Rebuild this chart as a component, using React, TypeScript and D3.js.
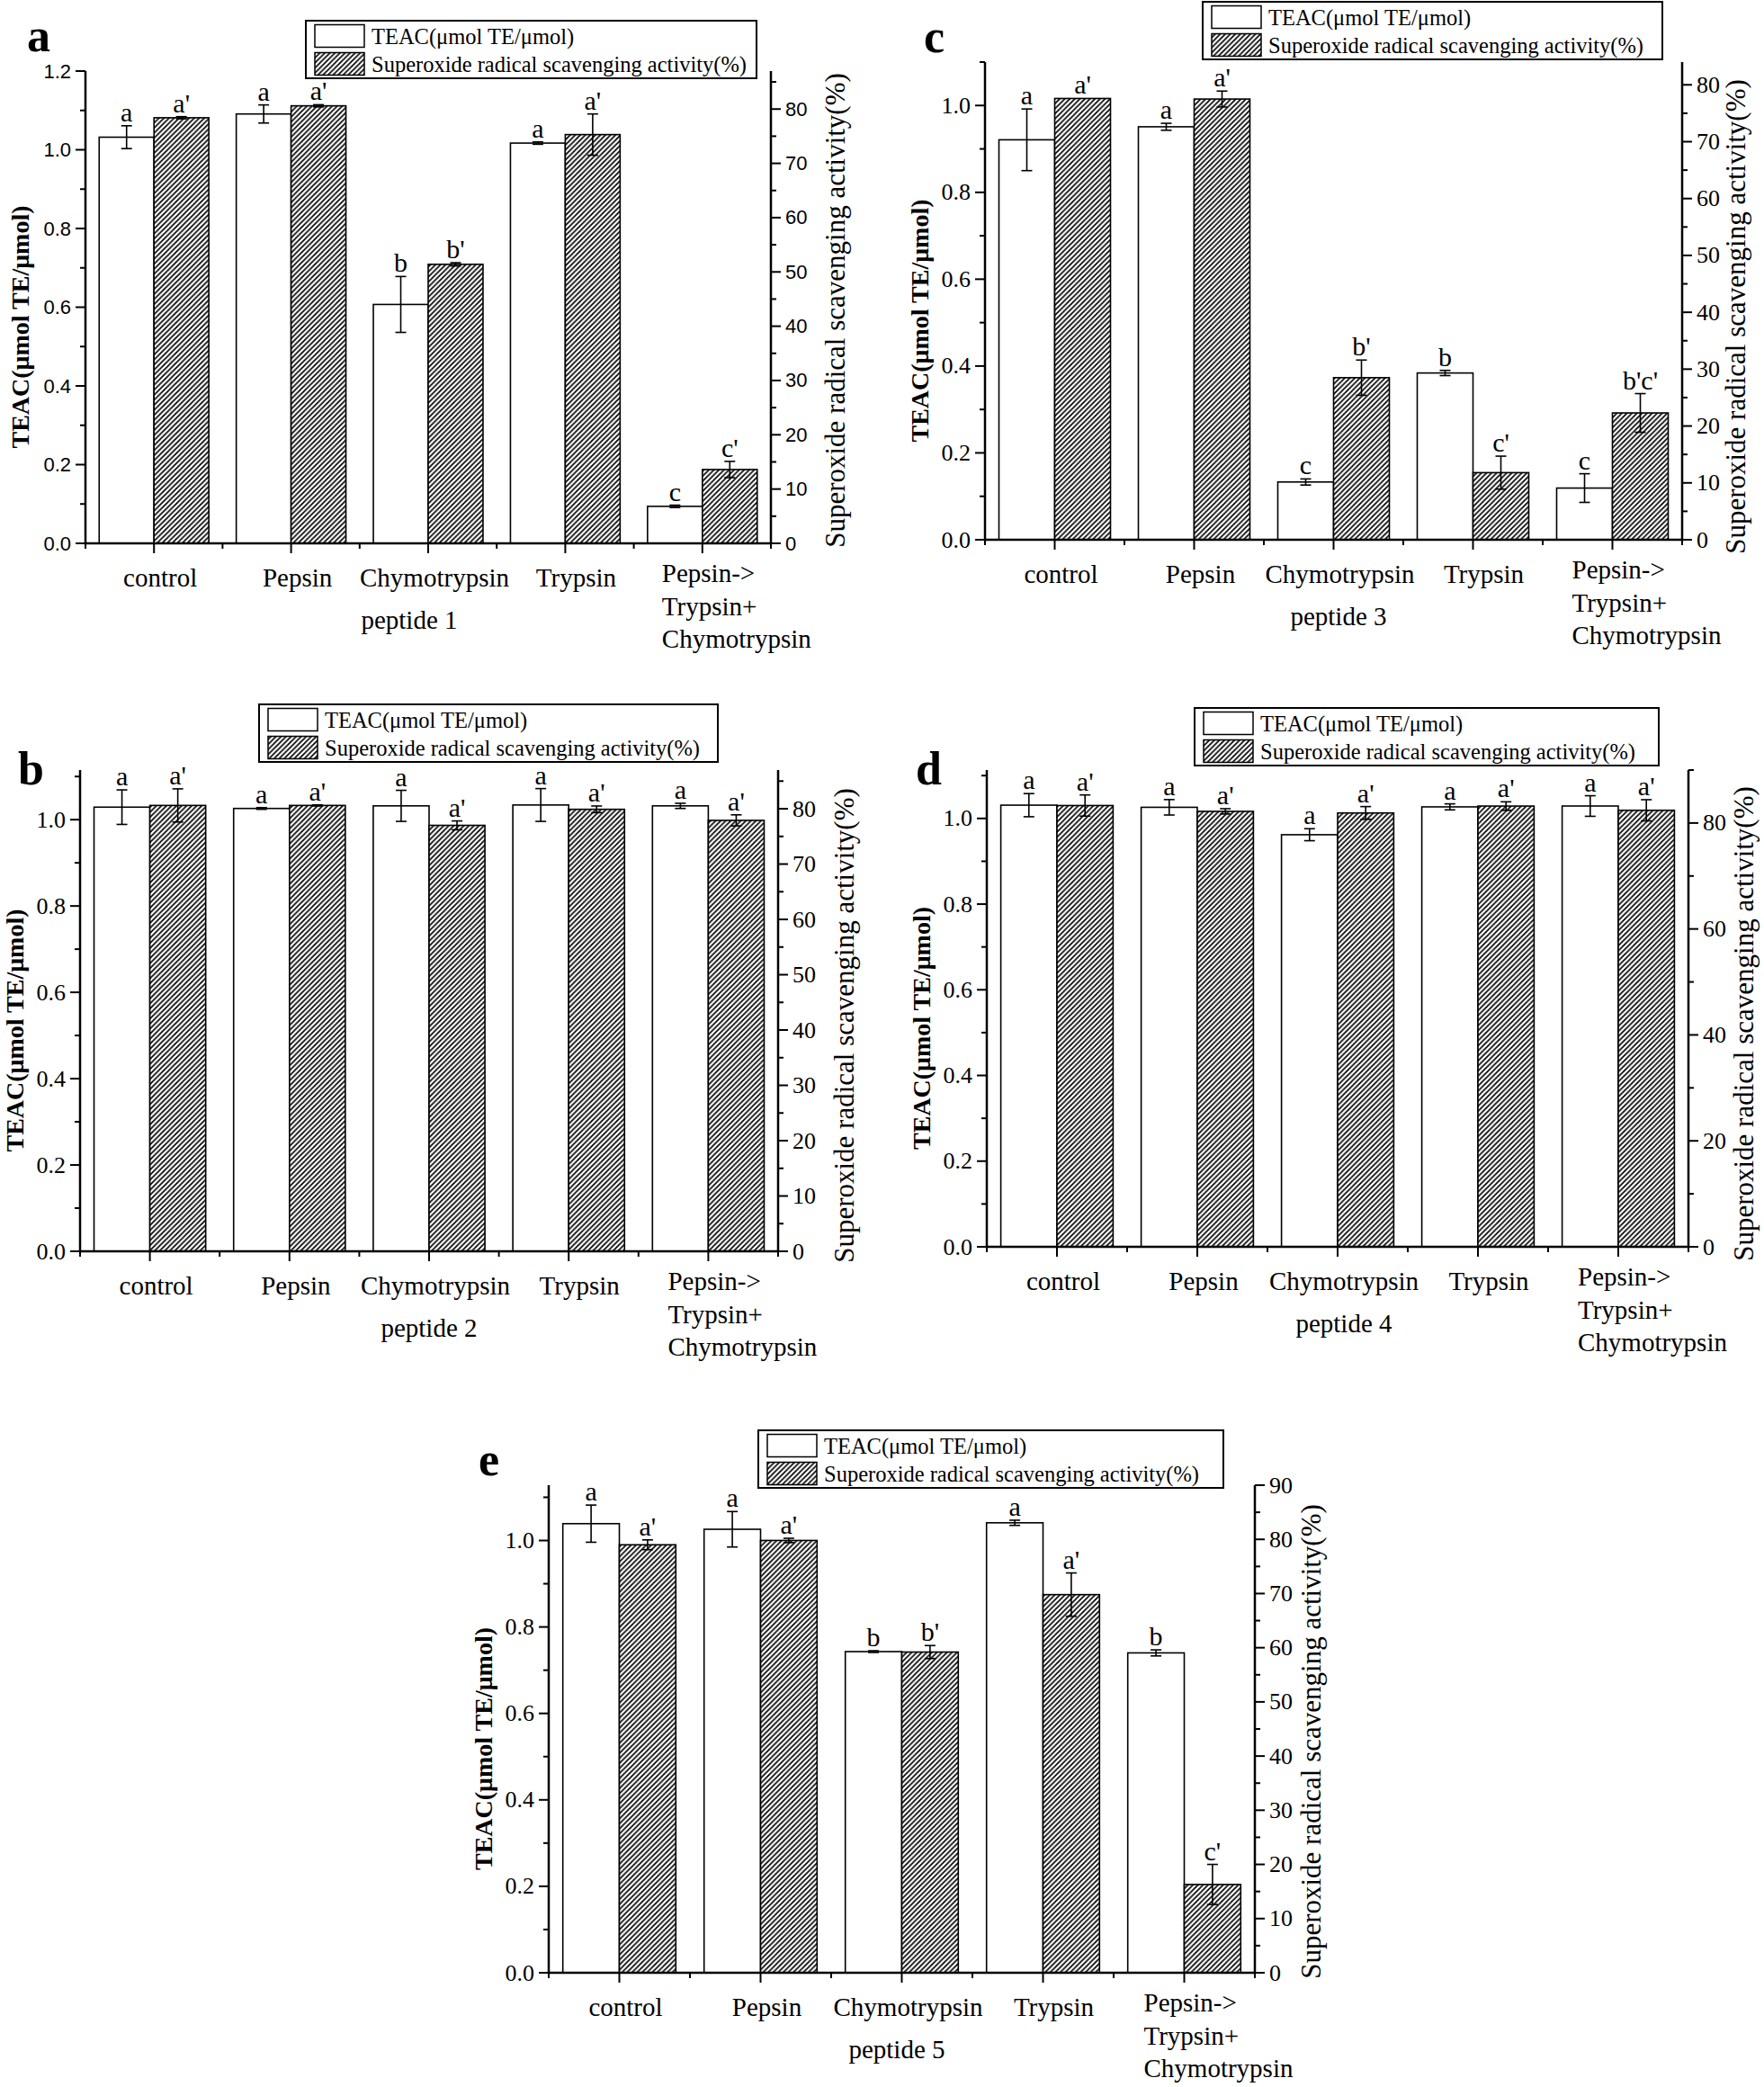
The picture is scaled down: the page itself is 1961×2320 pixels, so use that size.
import React from 'react';
import * as d3 from 'd3';

// ---------- data ----------
const categories: string[][] = [
  ['control'],
  ['Pepsin'],
  ['Chymotrypsin'],
  ['Trypsin'],
  ['Pepsin->', 'Trypsin+', 'Chymotrypsin'],
];
const legendLabels = ['TEAC(\u03bcmol TE/\u03bcmol)', 'Superoxide radical scavenging activity(%)'];
const leftTitle = 'TEAC(\u03bcmol TE/\u03bcmol)';
const rightTitle = 'Superoxide radical scavenging activity(%)';

// peptide 1 (a)
const teacA = [1.032, 1.091, 0.607, 1.017, 0.094];
const teacErrA = [0.029, 0.023, 0.071, 0.003, 0.003];
const srsaA = [78.4, 80.6, 51.4, 75.3, 13.6];
const srsaErrA = [0.2, 0.2, 0.3, 3.8, 1.5];
const teacLabA = ['a', 'a', 'b', 'a', 'c'];
const srsaLabA = ["a'", "a'", "b'", "a'", "c'"];

// peptide 2 (b)
const teacB = [1.029, 1.026, 1.032, 1.034, 1.032];
const teacErrB = [0.04, 0.002, 0.036, 0.038, 0.006];
const srsaB = [80.6, 80.6, 77.0, 79.9, 77.9];
const srsaErrB = [3.0, 0.1, 0.8, 0.6, 1.0];
const teacLabB = ['a', 'a', 'a', 'a', 'a'];
const srsaLabB = ["a'", "a'", "a'", "a'", "a'"];

// peptide 3 (c)
const teacC = [0.921, 0.951, 0.133, 0.384, 0.119];
const teacErrC = [0.071, 0.008, 0.007, 0.006, 0.033];
const srsaC = [77.6, 77.5, 28.5, 11.8, 22.3];
const srsaErrC = [0, 1.4, 3.1, 2.9, 3.4];
const teacLabC = ['a', 'a', 'c', 'b', 'c'];
const srsaLabC = ["a'", "a'", "b'", "c'", "b'c'"];

// peptide 4 (d)
const teacD = [1.031, 1.026, 0.962, 1.027, 1.029];
const teacErrD = [0.027, 0.018, 0.014, 0.007, 0.024];
const srsaD = [83.3, 82.2, 81.9, 83.2, 82.4];
const srsaErrD = [2.0, 0.5, 1.2, 0.8, 2.0];
const teacLabD = ['a', 'a', 'a', 'a', 'a'];
const srsaLabD = ["a'", "a'", "a'", "a'", "a'"];

// peptide 5 (e)
const teacE = [1.039, 1.026, 0.743, 1.041, 0.74];
const teacErrE = [0.043, 0.041, 0.002, 0.006, 0.007];
const srsaE = [79.0, 79.8, 59.2, 69.8, 16.3];
const srsaErrE = [0.9, 0.4, 1.2, 4.0, 3.7];
const teacLabE = ['a', 'a', 'b', 'a', 'b'];
const srsaLabE = ["a'", "a'", "b'", "a'", "c'"];

// ---------- layout ----------
const SERIF = '"Liberation Serif", "Times New Roman", serif';
const SANS = '"Liberation Sans", Arial, sans-serif';

type Layout = {
  L: number; R: number; T: number; B: number;
  leftMax: number; rightMax: number; rightStep: number;
  tickFont: string; tickSize: number;
  legX: number; legY: number; legW: number;
  letterX: number; letterY: number;
  rtX: number; rtY: number; pepX: number;
};

const panels = [
  { letter: 'a', peptide: 'peptide 1', teac: teacA, teacErr: teacErrA, srsa: srsaA, srsaErr: srsaErrA, teacLab: teacLabA, srsaLab: srsaLabA,
    lay: { L: 95, R: 857, T: 79, B: 604, leftMax: 1.2, rightMax: 87, rightStep: 10, tickFont: SANS, tickSize: 22,
      legX: 340, legY: 23, legW: 501, letterX: 30, letterY: 57, rtX: 928, rtY: 345, pepX: 455 } as Layout },
  { letter: 'b', peptide: 'peptide 2', teac: teacB, teacErr: teacErrB, srsa: srsaB, srsaErr: srsaErrB, teacLab: teacLabB, srsaLab: srsaLabB,
    lay: { L: 89, R: 865, T: 856, B: 1391, leftMax: 1.115, rightMax: 87, rightStep: 10, tickFont: SERIF, tickSize: 26,
      legX: 288, legY: 783, legW: 510, letterX: 20, letterY: 872, rtX: 938, rtY: 1140, pepX: 477 } as Layout },
  { letter: 'c', peptide: 'peptide 3', teac: teacC, teacErr: teacErrC, srsa: srsaC, srsaErr: srsaErrC, teacLab: teacLabC, srsaLab: srsaLabC,
    lay: { L: 1095, R: 1870, T: 69, B: 600, leftMax: 1.1, rightMax: 84, rightStep: 10, tickFont: SERIF, tickSize: 26,
      legX: 1337, legY: 2, legW: 511, letterX: 1027, letterY: 58, rtX: 1929, rtY: 352, pepX: 1488 } as Layout },
  { letter: 'd', peptide: 'peptide 4', teac: teacD, teacErr: teacErrD, srsa: srsaD, srsaErr: srsaErrD, teacLab: teacLabD, srsaLab: srsaLabD,
    lay: { L: 1097, R: 1877, T: 856, B: 1386, leftMax: 1.113, rightMax: 90, rightStep: 20, tickFont: SERIF, tickSize: 26,
      legX: 1328, legY: 787, legW: 516, letterX: 1018, letterY: 872, rtX: 1938, rtY: 1138, pepX: 1494 } as Layout },
  { letter: 'e', peptide: 'peptide 5', teac: teacE, teacErr: teacErrE, srsa: srsaE, srsaErr: srsaErrE, teacLab: teacLabE, srsaLab: srsaLabE,
    lay: { L: 610, R: 1395, T: 1651, B: 2193, leftMax: 1.128, rightMax: 90, rightStep: 10, tickFont: SERIF, tickSize: 26,
      legX: 843, legY: 1590, legW: 517, letterX: 532, letterY: 1640, rtX: 1457, rtY: 1936, pepX: 997 } as Layout },
];

function Legend({ x, y, w }: { x: number; y: number; w: number }) {
  const rows = [y + 17, y + 48];
  return (
    <g>
      <rect x={x} y={y} width={w} height={64} fill="white" stroke="black" strokeWidth={2} />
      {legendLabels.map((t, i) => (
        <g key={i}>
          <rect x={x + 10} y={rows[i] - 12.5} width={55} height={25} fill={i === 0 ? 'white' : 'url(#hatch)'} stroke="black" strokeWidth={1.5} />
          <text x={x + 73} y={rows[i]} dominantBaseline="central" fontFamily={SERIF} fontSize={24.5}>{t}</text>
        </g>
      ))}
    </g>
  );
}

function Panel(p: typeof panels[number]) {
  const { L, R, T, B, leftMax, rightMax, rightStep, tickFont, tickSize } = p.lay;
  const idx = d3.range(categories.length);
  const x = d3.scaleBand<number>().domain(idx).range([L, R]).padding(0);
  const yL = d3.scaleLinear().domain([0, leftMax]).range([B, T]);
  const yR = d3.scaleLinear().domain([0, rightMax]).range([B, T]);
  const gw = x.bandwidth();
  const bw = gw * 0.4;

  const leftMajor: number[] = [];
  for (let v = 0; v <= leftMax + 1e-6; v += 0.2) leftMajor.push(+v.toFixed(1));
  const leftMinor: number[] = [];
  for (let v = 0.1; v <= leftMax + 1e-6; v += 0.2) leftMinor.push(+v.toFixed(1));
  const rightMajor: number[] = [];
  for (let v = 0; v <= rightMax + 1e-6; v += rightStep) rightMajor.push(v);
  const rightMinor: number[] = [];
  for (let v = rightStep / 2; v <= rightMax + 1e-6; v += rightStep) rightMinor.push(v);

  const fmtL = d3.format('.1f');
  const bars: any[] = [];
  idx.forEach((i) => {
    const cx = (x(i) as number) + gw / 2;
    const series = [
      { v: p.teac[i], e: p.teacErr[i], lab: p.teacLab[i], y: yL, x0: cx - bw, fill: 'white' },
      { v: p.srsa[i], e: p.srsaErr[i], lab: p.srsaLab[i], y: yR, x0: cx, fill: 'url(#hatch)' },
    ];
    series.forEach((s, j) => {
      const top = s.y(s.v);
      const mx = s.x0 + bw / 2;
      const eTop = s.y(s.v + s.e);
      const eBot = s.y(s.v - s.e);
      bars.push(
        <g key={`${i}-${j}`}>
          <rect x={s.x0} y={top} width={bw} height={B - top} fill={s.fill} stroke="black" strokeWidth={1.6} />
          {s.e > 0 && (
            <g stroke="black" strokeWidth={1.6}>
              <line x1={mx} x2={mx} y1={eTop} y2={eBot} />
              <line x1={mx - 6} x2={mx + 6} y1={eTop} y2={eTop} />
              <line x1={mx - 6} x2={mx + 6} y1={eBot} y2={eBot} />
            </g>
          )}
          <text x={mx} y={Math.min(eTop, top) - 5} textAnchor="middle" fontFamily={SERIF} fontSize={30}>{s.lab}</text>
        </g>
      );
    });
  });

  return (
    <g>
      {bars}
      <g stroke="black" strokeWidth={2.5} fill="none">
        <line x1={L} x2={L} y1={T} y2={B + 1.25} />
        <line x1={R} x2={R} y1={T} y2={B + 1.25} />
        <line x1={L} x2={R} y1={B} y2={B} />
      </g>
      <g stroke="black" strokeWidth={2}>
        {leftMajor.map((v) => <line key={'lm' + v} x1={L - 11} x2={L} y1={yL(v)} y2={yL(v)} />)}
        {leftMinor.map((v) => <line key={'ln' + v} x1={L - 6} x2={L} y1={yL(v)} y2={yL(v)} />)}
        {rightMajor.map((v) => <line key={'rm' + v} x1={R} x2={R + 11} y1={yR(v)} y2={yR(v)} />)}
        {rightMinor.map((v) => <line key={'rn' + v} x1={R} x2={R + 6} y1={yR(v)} y2={yR(v)} />)}
        {idx.map((i) => <line key={'bm' + i} x1={(x(i) as number) + gw / 2} x2={(x(i) as number) + gw / 2} y1={B} y2={B + 11} />)}
        {d3.range(categories.length + 1).map((i) => <line key={'bn' + i} x1={L + i * gw} x2={L + i * gw} y1={B} y2={B + 6} />)}
      </g>
      {leftMajor.map((v) => (
        <text key={'lt' + v} x={L - 16} y={yL(v)} textAnchor="end" dominantBaseline="central" fontFamily={tickFont} fontSize={tickSize}>{fmtL(v)}</text>
      ))}
      {rightMajor.map((v) => (
        <text key={'rt' + v} x={R + 16} y={yR(v)} textAnchor="start" dominantBaseline="central" fontFamily={tickFont} fontSize={tickSize}>{v}</text>
      ))}
      {idx.map((i) => {
        const cx = (x(i) as number) + gw / 2;
        const lines = categories[i];
        if (lines.length === 1) {
          return <text key={'c' + i} x={cx + (i === 3 ? 12 : 7)} y={B + 38} textAnchor="middle" dominantBaseline="central" fontFamily={SERIF} fontSize={29}>{lines[0]}</text>;
        }
        return (
          <g key={'c' + i}>
            {lines.map((t, k) => (
              <text key={k} x={cx - 45} y={B + 33 + k * 36.5} textAnchor="start" dominantBaseline="central" fontFamily={SERIF} fontSize={29}>{t}</text>
            ))}
          </g>
        );
      })}
      <text x={p.lay.pepX} y={B + 85} textAnchor="middle" dominantBaseline="central" fontFamily={SERIF} fontSize={29}>{p.peptide}</text>
      <text transform={`translate(${L - 73},${(T + B) / 2 + 22}) rotate(-90)`} textAnchor="middle" dominantBaseline="central" fontFamily={SERIF} fontWeight="bold" fontSize={28}>{leftTitle}</text>
      <text transform={`translate(${p.lay.rtX},${p.lay.rtY}) rotate(-90)`} textAnchor="middle" dominantBaseline="central" fontFamily={SERIF} fontSize={31}>{rightTitle}</text>
      <text x={p.lay.letterX} y={p.lay.letterY} fontFamily={SERIF} fontWeight="bold" fontSize={52}>{p.letter}</text>
      <Legend x={p.lay.legX} y={p.lay.legY} w={p.lay.legW} />
    </g>
  );
}

export default function App() {
  return (
    <svg width={1961} height={2320} viewBox="0 0 1961 2320" style={{ position: 'absolute', left: 0, top: 0, display: 'block', background: 'white' }}>
      <defs>
        <pattern id="hatch" patternUnits="userSpaceOnUse" width={5.6} height={5.6}>
          <rect width={5.6} height={5.6} fill="white" />
          <path d="M-1.4,1.4 L1.4,-1.4 M0,5.6 L5.6,0 M4.2,7 L7,4.2" stroke="black" strokeWidth={1.7} />
        </pattern>
      </defs>
      <rect width={1961} height={2320} fill="white" />
      {panels.map((p) => <Panel key={p.letter} {...p} />)}
    </svg>
  );
}
